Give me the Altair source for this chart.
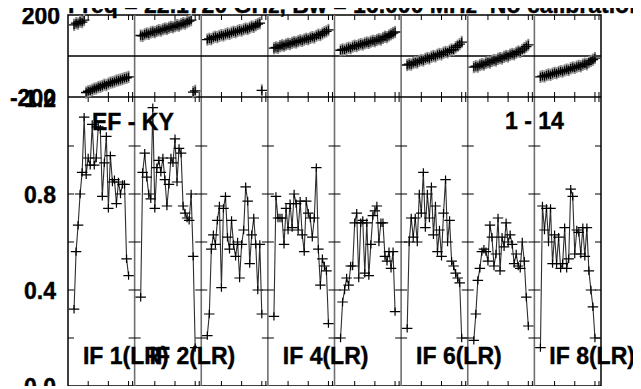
import altair as alt
import pandas as pd

# ---------------- data ----------------
IF_LABELS = ["IF 1(LR)", "IF 2(LR)", "IF 3(LR)", "IF 4(LR)",
             "IF 5(LR)", "IF 6(LR)", "IF 7(LR)", "IF 8(LR)"]
SHOWN_IF = [1, 2, 4, 6, 8]
CHANNELS = list(range(3, 31))

AMP_1 = [0.32, 0.56, 0.67, 0.80, 0.89, 1.12, 0.88, 0.95, 0.92, 1.09, 0.92, 0.95, 1.08, 1.07,
         0.79, 0.93, 1.04, 0.74, 0.96, 0.85, 0.86, 0.76, 0.85, 0.80, 0.84, 0.84, 0.53, 0.46]
AMP_2 = [0.37, 0.89, 0.97, 0.87, 0.80, 0.78, 1.16, 0.74, 0.91, 0.94, 0.89, 0.95, 0.86, 0.75,
         0.84, 0.95, 0.93, 1.03, 0.85, 0.99, 0.97, 0.75, 0.72, 0.70, 0.69, 0.80, 0.54, 0.16]
AMP_3 = [0.21, 0.30, 0.57, 0.63, 0.59, 0.69, 0.75, 0.41, 0.74, 0.79, 0.62, 0.57, 0.69, 0.59,
         0.54, 0.60, 0.45, 0.59, 0.65, 0.83, 0.77, 0.51, 0.63, 0.70, 0.59, 0.40, 0.59, 0.30]
AMP_4 = [0.29, 0.79, 0.70, 0.70, 0.70, 0.59, 0.74, 0.65, 0.76, 0.66, 0.80, 0.76, 0.65, 0.77,
         0.63, 0.56, 0.77, 0.72, 0.70, 0.62, 0.70, 0.91, 0.57, 0.42, 0.53, 0.50, 0.48, 0.26]
AMP_5 = [0.20, 0.35, 0.40, 0.45, 0.42, 0.50, 0.50, 0.68, 0.72, 0.45, 0.68, 0.69, 0.47, 0.68,
         0.46, 0.59, 0.71, 0.73, 0.75, 0.60, 0.68, 0.68, 0.54, 0.52, 0.56, 0.49, 0.56, 0.31]
AMP_6 = [0.24, 0.60, 0.70, 0.62, 0.70, 0.60, 0.80, 0.72, 0.89, 0.66, 0.80, 0.70, 0.83, 0.63,
         0.75, 0.56, 0.65, 0.54, 0.72, 0.86, 0.60, 0.69, 0.52, 0.50, 0.47, 0.45, 0.43, 0.20]
AMP_7 = [0.19, 0.30, 0.44, 0.49, 0.56, 0.57, 0.56, 0.52, 0.67, 0.62, 0.50, 0.55, 0.70, 0.48,
         0.62, 0.58, 0.68, 0.60, 0.63, 0.59, 0.51, 0.55, 0.50, 0.49, 0.60, 0.52, 0.37, 0.25]
AMP_8 = [0.16, 0.75, 0.65, 0.74, 0.60, 0.74, 0.51, 0.63, 0.51, 0.62, 0.49, 0.51, 0.66, 0.49,
         0.53, 0.82, 0.79, 0.55, 0.65, 0.64, 0.55, 0.66, 0.54, 0.66, 0.48, 0.40, 0.33, 0.20]

PHASE_1 = [152, 160, 158, 168, 165, 175, -178, -172, -170, -165, -160, -158, -152, -150,
           -146, -140, -142, -135, -130, -128, -125, -120, -118, -115, -112, -108, -106, -102]
PHASE_2 = [100, 98, 106, 110, 108, 115, 118, 116, 122, 126, 124, 130, 134, 132,
           138, 142, 140, 146, 150, 148, 155, 160, 158, 165, 170, 175, -176, -170]
PHASE_3 = [80, 84, 82, 90, 94, 92, 98, 102, 100, 106, 110, 108, 114, 118,
           116, 122, 126, 124, 130, 134, 132, 138, 144, 142, 150, 156, 160, -168]
PHASE_4 = [38, 42, 40, 48, 52, 50, 56, 60, 58, 64, 68, 66, 72, 76,
           74, 80, 84, 82, 88, 92, 90, 98, 104, 102, 110, 116, 120, 127]
PHASE_5 = [28, 32, 30, 36, 40, 38, 46, 50, 48, 54, 58, 56, 62, 66,
           64, 70, 74, 72, 78, 82, 80, 88, 94, 92, 100, 106, 112, 117]
PHASE_6 = [-44, -40, -42, -34, -30, -32, -24, -20, -22, -14, -10, -12, -4, 0,
           -2, 6, 10, 8, 16, 20, 18, 26, 32, 30, 42, 50, 58, 68]
PHASE_7 = [-54, -50, -52, -44, -40, -42, -34, -30, -32, -24, -20, -22, -14, -10,
           -12, -4, 0, -2, 6, 10, 8, 16, 22, 20, 30, 38, 46, 54]
PHASE_8 = [-102, -98, -100, -94, -90, -92, -86, -82, -84, -78, -74, -76, -70, -66,
           -68, -60, -56, -58, -52, -48, -50, -42, -38, -40, -30, -24, -18, -10]
PHASE_ERR = [30, 30, 30, 30, 30, 30, 30, 30]

AMPS = [AMP_1, AMP_2, AMP_3, AMP_4, AMP_5, AMP_6, AMP_7, AMP_8]
PHASES = [PHASE_1, PHASE_2, PHASE_3, PHASE_4, PHASE_5, PHASE_6, PHASE_7, PHASE_8]

AMP_TICK_LABELS = [0.0, 0.4, 0.8, 1.2]
AMP_MINOR_TICKS = [0.2, 0.4, 0.6, 0.8, 1.0]
PHASE_TICK_LABELS = [200, -200]
CHANNEL_TICKS = [10, 20, 30, 32]
BASELINE_TEXT = "EF - KY"
STOKES_TEXT = "1 - 14"
TITLE = "Freq = 22.1720 GHz, Bw = 16.000 MHz\u00a0\u00a0No calibration"

# ---------------- layout / style ----------------
FONT = "Liberation Sans"
W, H = 533, 371
SPAN = 33            # channel units per IF cell
N_IF = 8
PX_AMP = 1 / 240.0   # amplitude units per pixel
PX_PH = 400 / 82.0   # degrees per pixel
AMP_TOP = H * PX_AMP
PH_MIN = 200 - H * PX_PH
TICK = 5

XS = alt.Scale(domain=[0, SPAN * N_IF], nice=False, zero=False)
YA = alt.Scale(domain=[0, AMP_TOP], nice=False, zero=False)
YP = alt.Scale(domain=[PH_MIN, 200], nice=False, zero=False)

PLUS = "M -1 0 L 1 0 M 0 -0.8 L 0 0.8"

rows = []
for k in range(N_IF):
    for c, a, p in zip(CHANNELS, AMPS[k], PHASES[k]):
        rows.append({"ifn": k + 1, "x": k * SPAN + c, "amp": a, "ph": p,
                     "lo": p - PHASE_ERR[k], "hi": p + PHASE_ERR[k]})
pts = pd.DataFrame(rows)

bounds = pd.DataFrame({"x": [k * SPAN for k in range(1, N_IF)]})
hlines = pd.DataFrame({"v": [0, -200]})

vt = []
for k in range(N_IF):
    for t in CHANNEL_TICKS:
        x = k * SPAN + t
        vt.append({"x": x, "y": 200 - TICK * PX_PH, "y2": 200})
        vt.append({"x": x, "y": -200 - TICK * PX_PH, "y2": -200 + TICK * PX_PH})
        vt.append({"x": x, "y": PH_MIN, "y2": PH_MIN + TICK * PX_PH})
vticks = pd.DataFrame(vt)

ht = []
half = 6 * SPAN / (W / N_IF)
for k in range(N_IF + 1):
    for v in AMP_MINOR_TICKS:
        b = k * SPAN
        ht.append({"x": max(0, b - half), "x2": min(SPAN * N_IF, b + half), "v": v})
hticks = pd.DataFrame(ht)

iflab = pd.DataFrame({"x": [(i - 1) * SPAN + 7.4 for i in SHOWN_IF],
                      "y": [0.12] * len(SHOWN_IF),
                      "t": [IF_LABELS[i - 1] for i in SHOWN_IF]})
toplab = pd.DataFrame({"x": [11.9, 216.5], "y": [1.097, 1.10], "t": [BASELINE_TEXT, STOKES_TEXT]})
amplab = pd.DataFrame({"v": AMP_TICK_LABELS, "t": [f"{v:.1f}" for v in AMP_TICK_LABELS]})
phlab = pd.DataFrame({"v": PHASE_TICK_LABELS, "t": [str(v) for v in PHASE_TICK_LABELS],
                      "dx": [4, 0]})

X = alt.X("x:Q", scale=XS, axis=None)

l_bounds = alt.Chart(bounds).mark_rule(color="#707070", strokeWidth=1.6).encode(
    x=X, y=alt.value(0), y2=alt.value(H))
l_hlines = alt.Chart(hlines).mark_rule(color="black", strokeWidth=1.3).encode(
    y=alt.Y("v:Q", scale=YP, axis=None), x=alt.value(0), x2=alt.value(W))
l_vticks = alt.Chart(vticks).mark_rule(color="black", strokeWidth=1).encode(
    x=X, y=alt.Y("y:Q", scale=YP, axis=None), y2="y2:Q")
l_hticks = alt.Chart(hticks).mark_rule(color="black", strokeWidth=1).encode(
    x=X, x2="x2:Q", y=alt.Y("v:Q", scale=YA, axis=None))

l_err = alt.Chart(pts).mark_rule(color="#8a8a8a", strokeWidth=2).encode(
    x=X, y=alt.Y("lo:Q", scale=YP, axis=None), y2="hi:Q")
l_php = alt.Chart(pts).mark_point(shape=PLUS, size=110, filled=False, color="black",
                                  strokeWidth=1.3, opacity=1).encode(
    x=X, y=alt.Y("ph:Q", scale=YP, axis=None))

l_line = alt.Chart(pts).mark_line(color="#2e2e2e", strokeWidth=1.1).encode(
    x=X, y=alt.Y("amp:Q", scale=YA, axis=None), detail="ifn:N")
l_ampp = alt.Chart(pts).mark_point(shape=PLUS, size=110, filled=False, color="black",
                                   strokeWidth=1.2, opacity=1).encode(
    x=X, y=alt.Y("amp:Q", scale=YA, axis=None))

txt = dict(font=FONT, fontWeight="bold", fontSize=23, color="black",
           stroke="black", strokeWidth=0.4)
l_iflab = alt.Chart(iflab).mark_text(align="left", baseline="middle", **txt).encode(
    x=X, y=alt.Y("y:Q", scale=YA, axis=None), text="t:N")
l_toplab = alt.Chart(toplab).mark_text(align="left", baseline="middle", **txt).encode(
    x=X, y=alt.Y("y:Q", scale=YA, axis=None), text="t:N")
l_amplab = alt.Chart(amplab).mark_text(align="right", baseline="middle", dy=2, **txt).encode(
    x=alt.value(-12), y=alt.Y("v:Q", scale=YA, axis=None), text="t:N")
l_phlab = alt.Chart(phlab).mark_text(align="right", baseline="middle", dy=2, **txt).encode(
    x=alt.value(-12), y=alt.Y("v:Q", scale=YP, axis=None), text="t:N",
    xOffset=alt.XOffset("dx:Q", scale=None))
l_title = alt.Chart(pd.DataFrame({"t": [TITLE]})).mark_text(
    align="left", baseline="alphabetic", **txt).encode(
    x=alt.value(0), y=alt.value(-2), text="t:N")

chart = alt.layer(
    l_bounds, l_hlines, l_vticks, l_hticks, l_err, l_line, l_php, l_ampp,
    l_iflab, l_toplab, l_amplab, l_phlab, l_title
).resolve_scale(y="independent").properties(
    width=W, height=H,
    autosize=alt.AutoSizeParams(type="none"),
    padding={"left": 60, "top": 7, "right": 32, "bottom": 0},
).configure_view(stroke="black", strokeWidth=1.5)

chart.save("out.html", embed_options={"renderer": "svg", "actions": False})
